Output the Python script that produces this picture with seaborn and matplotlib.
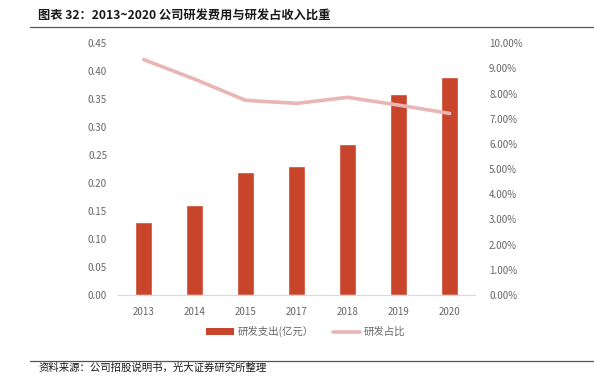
import numpy as np
import pandas as pd
import matplotlib
matplotlib.use("Agg")
import matplotlib.pyplot as plt
import seaborn as sns
from matplotlib.patches import Patch
from matplotlib.lines import Line2D
from matplotlib.ticker import FuncFormatter

years = ["2013", "2014", "2015", "2017", "2018", "2019", "2020"]
rd_expense = [0.13, 0.16, 0.22, 0.23, 0.27, 0.36, 0.39]
rd_ratio = [9.35, 8.57, 7.73, 7.61, 7.85, 7.54, 7.21]
left_ticks = [0.00, 0.05, 0.10, 0.15, 0.20, 0.25, 0.30, 0.35, 0.40, 0.45]
right_ticks = [0, 1, 2, 3, 4, 5, 6, 7, 8, 9, 10]
title = "图表 32：2013~2020 公司研发费用与研发占收入比重"
source = "资料来源：公司招股说明书，光大证券研究所整理"
bar_label = "研发支出(亿元）"
line_label = "研发占比"

sns.set_theme(style="white")
plt.rcParams["font.family"] = ["Noto Sans CJK SC", "DejaVu Sans"]

bar_color = "#C8442A"
line_color = "#E9B5B5"
tick_color = "#666666"

df = pd.DataFrame({"year": years, "expense": rd_expense, "ratio": rd_ratio})
df["pos"] = np.arange(len(df))

fig = plt.figure(figsize=(5.94, 3.88), dpi=100)
ax = fig.add_axes([0.199, 0.2397, 0.601, 0.649])
sns.barplot(data=df, x="year", y="expense", color=bar_color, width=0.33,
            saturation=1, ax=ax)
ax.set_ylim(0, 0.45)
ax.set_yticks(left_ticks)
ax.yaxis.set_major_formatter(FuncFormatter(lambda v, p: f"{v:.2f}"))
ax.set_xlabel("")
ax.set_ylabel("")
ax.set_xlim(-0.5, len(years) - 0.5)

ax2 = ax.twinx()
sns.lineplot(data=df, x="pos", y="ratio", color=line_color, linewidth=2.6, ax=ax2)
ax2.set_ylim(0, 10)
ax2.set_yticks(right_ticks)
ax2.yaxis.set_major_formatter(FuncFormatter(lambda v, p: f"{v:.2f}%"))
ax2.set_ylabel("")
ax2.set_xlabel("")
ax.set_xlim(-0.5, len(years) - 0.5)

for a in (ax, ax2):
    for s in a.spines.values():
        s.set_visible(False)
    a.tick_params(axis="both", length=0, labelsize=7, colors=tick_color)
ax.tick_params(axis="x", pad=9)
ax.tick_params(axis="y", pad=8)
ax2.tick_params(axis="y", pad=10)
ax.spines["bottom"].set_visible(True)
ax.spines["bottom"].set_color("#D9D9D9")
ax.spines["bottom"].set_linewidth(0.8)
ax.grid(False)
ax2.grid(False)

handles = [Patch(facecolor=bar_color, edgecolor="none"),
           Line2D([0], [0], color=line_color, linewidth=2.6)]
fig.legend(handles, [bar_label, line_label], loc="center", ncol=2,
           bbox_to_anchor=(0.515, 0.145), frameon=False, fontsize=7.5,
           labelcolor=tick_color, handlelength=2.6, columnspacing=1.8,
           handletextpad=0.4)

fig.text(0.064, 0.962, title, fontsize=8.8, fontweight="bold", color="#1a1a1a",
         va="center", ha="left")
fig.add_artist(Line2D([0.05, 1.0], [0.930, 0.930], color="#555555", linewidth=0.9))
fig.add_artist(Line2D([0.05, 1.0], [0.070, 0.070], color="#555555", linewidth=0.9))
fig.text(0.064, 0.052, source, fontsize=7.5, color="#1a1a1a", va="center", ha="left")

fig.savefig("out.png", dpi=100)
